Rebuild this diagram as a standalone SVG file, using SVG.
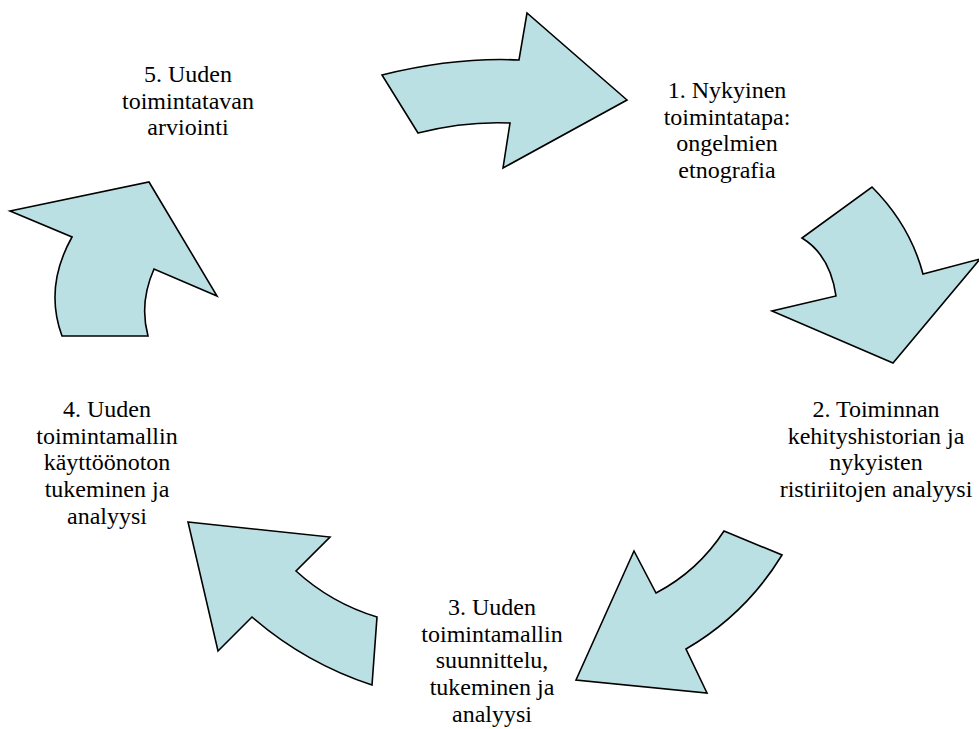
<svg xmlns="http://www.w3.org/2000/svg" width="979" height="729" viewBox="0 0 979 729">
<style>
.arr{fill:#BBE0E3;stroke:#000;stroke-width:1.6;stroke-linejoin:miter}
text{font-family:"Liberation Serif","Times New Roman",serif;font-size:24px;fill:#000;text-anchor:middle}
</style>
<rect width="979" height="729" fill="#fff"/>
<g id="connectors">
<path id="arrow1" class="arr" d="M382,75 Q455,57 519,60 L527,13 L627,100 L503,168 L510,123 Q465,121 418,133 Z"/>
<path id="arrow2" class="arr" d="M872,187 Q910,225 923,274 L980,259 L893,363 L772,311 L836,296 Q830,255 802,238 Z"/>
<path id="arrow3" class="arr" d="M724,531 L782,555 Q746,614 686,649 L707,693 L576,680 L634,551 L656,593 Q698,571 724,531 Z"/>
<path id="arrow4" class="arr" d="M188,522 L330,537 L296,571 Q331,603 377,617 L372,685 Q305,663 252,617 L218,651 Z"/>
<path id="arrow5" class="arr" d="M10,211 L149,182 L217,296 L154,269 Q139,303 148,336 L62,336 Q44,287 72,237 Z"/>
</g>
<g id="node1">
<text x="727" y="98">1. Nykyinen</text>
<text x="727" y="124.5">toimintatapa:</text>
<text x="727" y="151">ongelmien</text>
<text x="727" y="177.5">etnografia</text>
</g>
<g id="node2">
<text x="876" y="417">2. Toiminnan</text>
<text x="876" y="443.5">kehityshistorian ja</text>
<text x="876" y="470">nykyisten</text>
<text x="876" y="496.5">ristiriitojen analyysi</text>
</g>
<g id="node3">
<text x="492" y="615">3. Uuden</text>
<text x="492" y="641.7">toimintamallin</text>
<text x="492" y="668.3">suunnittelu,</text>
<text x="492" y="695">tukeminen ja</text>
<text x="492" y="721.7">analyysi</text>
</g>
<g id="node4">
<text x="107" y="417">4. Uuden</text>
<text x="107" y="443.7">toimintamallin</text>
<text x="107" y="470.3">käyttöönoton</text>
<text x="107" y="497">tukeminen ja</text>
<text x="107" y="523.7">analyysi</text>
</g>
<g id="node5">
<text x="188" y="82">5. Uuden</text>
<text x="188" y="108.5">toimintatavan</text>
<text x="188" y="135">arviointi</text>
</g>
</svg>
